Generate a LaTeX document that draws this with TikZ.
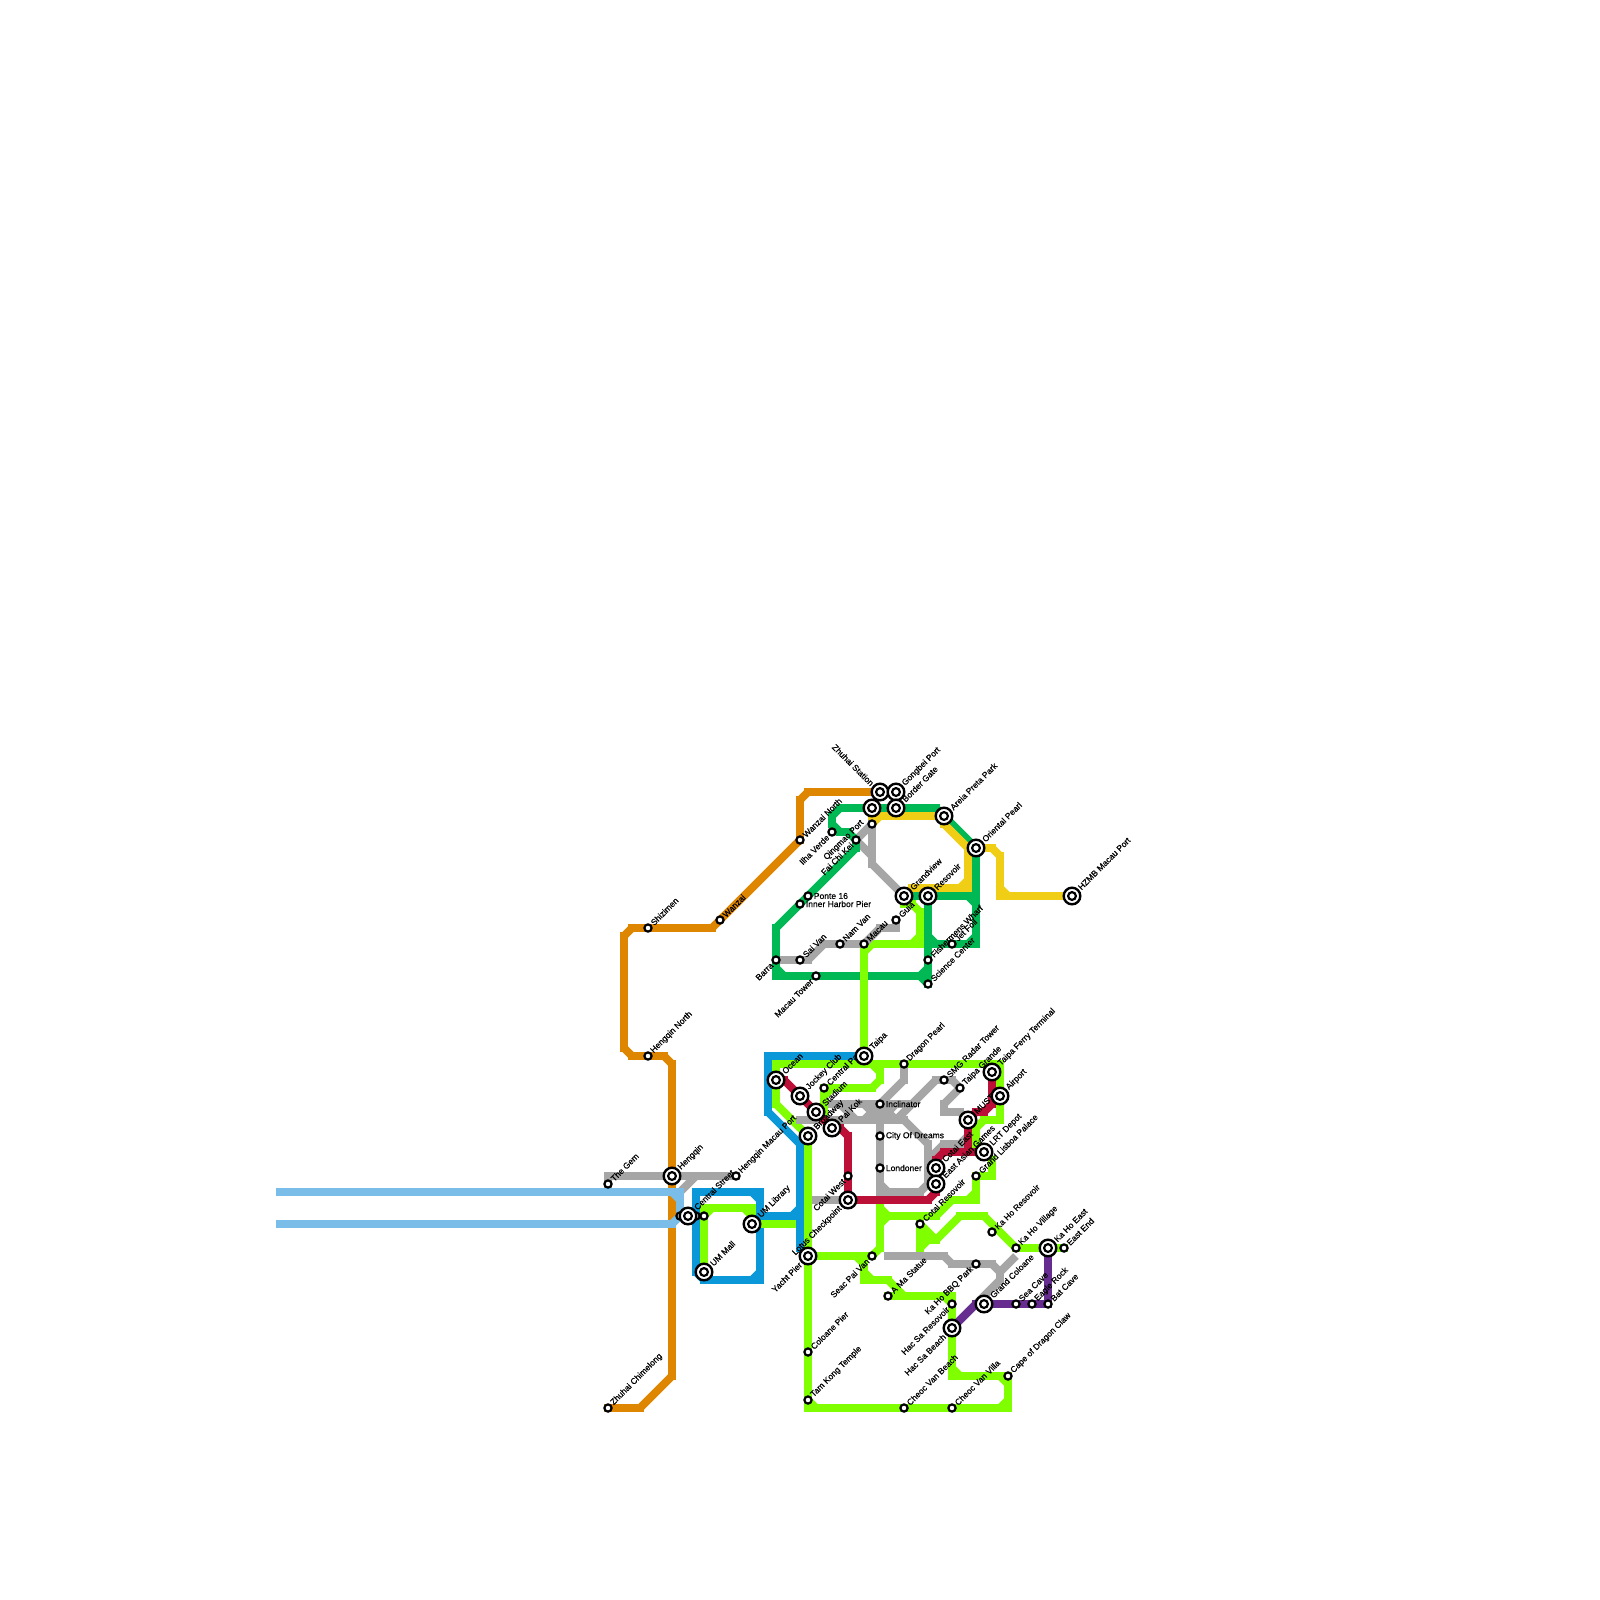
\documentclass[tikz,border=0pt]{standalone}
\usepackage{fontspec}
\setmainfont{Liberation Sans}
\newfontfamily\labelfont[FakeBold=0.6]{Liberation Sans}
\usepackage{xcolor}
\usetikzlibrary{backgrounds}
\definecolor{riverblue}{HTML}{79BDE8}
\definecolor{lineorange}{HTML}{DF8600}
\definecolor{lineblue}{HTML}{0A98D8}
\definecolor{linelime}{HTML}{80FF00}
\definecolor{linegreen}{HTML}{00B854}
\definecolor{linegray}{HTML}{A6A6A6}
\definecolor{linered}{HTML}{BD1038}
\definecolor{linepurple}{HTML}{662C90}
\definecolor{linegold}{HTML}{F0CE15}
\newcommand{\route}[2]{%
  \foreach \p [remember=\p as \q (initially none), count=\i] in {#2} {%
    \ifnum\i>1
      \path \q coordinate (ra) \p coordinate (rb);
      \pgfpointdiff{\pgfpointanchor{ra}{center}}{\pgfpointanchor{rb}{center}}%
      \pgfgetlastxy{\dx}{\dy}%
      \pgfmathtruncatemacro{\isdiag}{(abs(\dx)>0.1 && abs(\dy)>0.1) ? 1 : 0}%
      \ifnum\isdiag=1 \draw[seg, line cap=butt, #1] \q -- \p;
      \else \draw[seg, #1] \q -- \p;\fi
    \fi}}
\newcommand{\corners}[2]{%
  \foreach \p in {#2} {\fill[#1] \p +(-.5,-.5) rectangle +(.5,.5);}}
\tikzset{
  seg/.style={line width=8pt, line cap=rect},
  stop/.style={circle, draw=black, fill=white, line width=2.2pt, inner sep=0pt, minimum size=7.2pt},
  hub/.style={stop, line width=2.4pt, minimum size=16.6pt,
    path picture={\draw[line width=2.2pt] (path picture bounding box.center) circle (3.9pt);}},
  lab/.style={font=\labelfont\fontsize{8.5}{9}\selectfont, inner sep=1pt},
  ur/.style={lab, rotate=45, anchor=west},
  dl/.style={lab, rotate=45, anchor=east},
  ul/.style={lab, rotate=-45, anchor=east},
  rr/.style={lab, anchor=west},
}
\begin{document}
\begin{tikzpicture}[x=8pt, y=-8pt]
\useasboundingbox (0,0) rectangle (200,200);

% west side
\node[stop, label={[ur]45:Zhuhai Chimelong}] (chimelong) at (76,176) {};
\node[stop, label={[ur]45:The Gem}] (gem) at (76,148) {};
\node[stop, label={[ur]45:Shizimen}] (shizimen) at (81,116) {};
\node[stop, label={[ur]45:Hengqin North}] (hqnorth) at (81,132) {};
\node[stop, label={[ur]45:Wanzai}] (wanzai) at (90,115) {};
\node[hub, label={[ur]45:Hengqin}] (hengqin) at (84,147) {};
\node[stop, label={[ur]45:Hengqin Macau Port}] (hqport) at (92,147) {};
\node[stop] (cs1) at (85,152) {};
\node[stop] (cs2) at (87,152) {};
\node[stop] (cs3) at (88,152) {};
\node[hub, label={[ur]45:Central Street}] (central) at (86,152) {};
\node[hub, label={[ur]45:UM Library}] (umlib) at (94,153) {};
\node[hub, label={[ur]45:UM Mall}] (ummall) at (88,159) {};

% macau peninsula
\node[stop, label={[ur]45:Wanzai North}] (wanzainorth) at (100,105) {};
\node[stop, label={[dl]225:Ilha Verde}] (ilha) at (104,104) {};
\node[stop, label={[dl]225:Fai Chi Kei}] (fai) at (107,105) {};
\node[stop] (qingmao) at (109,103) {};
\node[dl] (qingmaotext) at (107.9,102.6) {Qingmao Port};
\node[hub, label={[ul]135:Zhuhai Station}] (zhuhai) at (110,99) {};
\node[hub, label={[ur]45:Gongbei Port}] (gongbei) at (112,99) {};
\node[hub] (linkhub) at (109,101) {};
\node[hub, label={[ur]45:Border Gate}] (border) at (112,101) {};
\node[hub, label={[ur]45:Areia Preta Park}] (areia) at (118,102) {};
\node[hub, label={[ur]45:Oriental Pearl}] (oriental) at (122,106) {};
\node[hub, label={[ur]45:HZMB Macau Port}] (hzmb) at (134,112) {};
\node[hub, label={[ur]45:Grandview}] (grandview) at (113,112) {};
\node[hub, label={[ur]45:Resovoir}] (resovoir) at (116,112) {};
\node[stop, label={[ur]45:Guia}] (guia) at (112,115) {};
\node[stop, label={[rr]right:Ponte 16}] (ponte) at (101,112) {};
\node[stop, label={[rr]right:Inner Harbor Pier}] (inner) at (100,113) {};
\node[stop, label={[ur]45:Macau}] (macau) at (108,118) {};
\node[stop, label={[ur]45:Nam Van}] (namvan) at (105,118) {};
\node[stop, label={[ur]45:Sai Van}] (saivan) at (100,120) {};
\node[stop, label={[dl]225:Barra}] (barra) at (97,120) {};
\node[stop, label={[dl]225:Macau Tower}] (tower) at (102,122) {};
\node[stop, label={[ur]45:Fishermens Wharf}] (wharf) at (116,120) {};
\node[stop, label={[ur]45:Science Center}] (science) at (116,123) {};
\node[stop, label={[ur]45:Jet Foil}] (jetfoil) at (119,118) {};

% taipa and cotai
\node[hub, label={[ur]45:Ocean}] (ocean) at (97,135) {};
\node[hub, label={[ur]45:Jockey Club}] (jockey) at (100,137) {};
\node[stop, label={[ur]45:Central Park}] (cpark) at (103,136) {};
\node[hub, label={[ur]45:Taipa}] (taipa) at (108,132) {};
\node[hub, label={[ur]45:Stadium}] (stadium) at (102,139) {};
\node[hub, label={[ur]45:Broadway}] (broadway) at (101,142) {};
\node[hub, label={[ur]45:Pai Kok}] (paikok) at (104,141) {};
\node[stop, label={[ur]45:Dragon Pearl}] (dragon) at (113,133) {};
\node[stop, label={[ur]45:SMG Radar Tower}] (smg) at (118,135) {};
\node[stop, label={[ur]45:Taipa Grande}] (grande) at (120,136) {};
\node[hub, label={[ur]45:Taipa Ferry Terminal}] (ferry) at (124,134) {};
\node[hub, label={[ur]45:Airport}] (airport) at (125,137) {};
\node[hub, label={[ur]45:MUST}] (must) at (121,140) {};
\node[stop, label={[rr]right:Inclinator}] (inclinator) at (110,138) {};
\node[stop, label={[rr]right:City Of Dreams}] (dreams) at (110,142) {};
\node[stop, label={[rr]right:Londoner}] (londoner) at (110,146) {};
\node[hub, label={[ur]45:Cotai East}] (cotaieast) at (117,146) {};
\node[hub, label={[ur]45:East Asian Games}] (games) at (117,148) {};
\node[hub, label={[ur]45:LRT Depot}] (lrt) at (123,144) {};
\node[stop, label={[ur]45:Grand Lisboa Palace}] (lisboa) at (122,147) {};
\node[stop, label={[dl]225:Cotai West}] (cotaiwest) at (106,147) {};
\node[hub, label={[dl]225:Lotus Checkpoint}] (lotus) at (106,150) {};

% coloane
\node[hub, label={[dl]225:Yacht Pier}] (yacht) at (101,157) {};
\node[stop, label={[dl]225:Seac Pai Van}] (seac) at (109,157) {};
\node[stop, label={[ur]45:Cotai Resovoir}] (cotaires) at (115,153) {};
\node[stop, label={[ur]45:Ka Ho Resovoir}] (kahores) at (124,154) {};
\node[stop, label={[ur]45:Ka Ho Village}] (kahovil) at (127,156) {};
\node[hub, label={[ur]45:Ka Ho East}] (kahoeast) at (131,156) {};
\node[stop, label={[ur]45:East End}] (eastend) at (133,156) {};
\node[stop, label={[dl]225:Ka Ho BBQ Park}] (bbq) at (122,158) {};
\node[stop, label={[ur]45:A Ma Statue}] (ama) at (111,162) {};
\node[stop, label={[dl]225:Hac Sa Resovoir}] (hacres) at (119,163) {};
\node[hub, label={[dl]225:Hac Sa Beach}] (hacbeach) at (119,166) {};
\node[hub, label={[ur]45:Grand Coloane}] (coloane) at (123,163) {};
\node[stop, label={[ur]45:Sea Cave}] (seacave) at (127,163) {};
\node[stop, label={[ur]45:Eagle Rock}] (eagle) at (129,163) {};
\node[stop, label={[ur]45:Bat Cave}] (batcave) at (131,163) {};
\node[stop, label={[ur]45:Coloane Pier}] (cpier) at (101,169) {};
\node[stop, label={[ur]45:Tam Kong Temple}] (tamkong) at (101,175) {};
\node[stop, label={[ur]45:Cheoc Van Beach}] (cvbeach) at (113,176) {};
\node[stop, label={[ur]45:Cheoc Van Villa}] (cvvilla) at (119,176) {};
\node[stop, label={[ur]45:Cape of Dragon Claw}] (cape) at (126,172) {};

\begin{scope}[on background layer]
% orange
\route{lineorange}{(chimelong.center),(80,176),(84,172),(hengqin.center),(84,133),(83,132),(79,132),(78,131),(78,117),(79,116),(89,116),(wanzainorth.center),(100,100),(101,99),(zhuhai.center)}

% blue
\route{lineblue}{(87,149),(94,149),(95,150),(95,159),(94,160),(88,160),(87,159),(87,149)}
\route{lineblue}{(95,152),(99,152),(100,151),(100,143),(96,139),(96,132),(taipa.center)}
\route{lineblue}{(100,151),(100,156),(yacht.center)}
\corners{lineblue}{(95,149),(95,160)}

% lime
\route{linelime}{(97,133),(124,133),(125,134),(125,140),(123,140),(122,141),(122,143),(lrt.center),(124,145),(124,147),(lisboa.center),(122,149),(121,150),(119,150),(117,152),(111,152),(110,151),(110,156),(seac.center),(yacht.center)}
\route{linelime}{(110,153),(111,152)}
\route{linelime}{(97,133),(97,138),(broadway.center),(yacht.center),(cpier.center),(tamkong.center),(102,176),(125,176),(126,175),(126,173),(125,172),(120,172),(119,171),(hacbeach.center),(hacres.center),(118,162),(113,162),(111,160),(109,160),(108,159),(108,158),(107,157)}
\route{linelime}{(125,172),(cape.center),(126,173)}
\route{linelime}{(ama.center),(113,162)}
\route{linelime}{(109,133),(110,134),(110,135),(109,136),(104,136),(103,137),(103,140)}
\route{linelime}{(cpark.center),(104,136)}
\route{linelime}{(taipa.center),(108,119),(109,118),(114,118),(115,117),(115,114),(114,113),(113,113),(grandview.center)}
\route{linelime}{(ummall.center),(88,152),(89,151),(93,151),(94,152),(umlib.center),(99,153)}
\route{linelime}{(115,152),(cotaires.center),(115,156),(116,155),(117,155),(120,152),(123,152),(kahovil.center),(kahoeast.center),(eastend.center)}
\route{linelime}{(cotaires.center),(117,155)}
\route{linelime}{(115,154),(116,155)}
\corners{linelime}{(88,151),(94,151),(101,176),(126,176),(126,172),(119,172),(119,162),(108,160),(115,118),(122,150),(125,133)}

% gray
\route{linegray}{(gem.center),(76,147),(hengqin.center),(hqport.center)}
\route{linegray}{(87,147),(85,149),(cs1.center)}
\route{linegray}{(100,140),(113,140),(116,143),(116,148),(115,149),(111,149),(110,148),(londoner.center),(dreams.center),(inclinator.center)}
\route{linegray}{(104,138),(114,138)}
\route{linegray}{(dragon.center),(113,135),(108,140)}
\route{linegray}{(108,138),(110,140),(112,138)}
\route{linegray}{(inclinator.center),(112,140),(117,135),(smg.center),(119,135),(grande.center),(118,138),(118,139),(120,139),(must.center),(121,142),(120,143),(118,143),(116,145)}
\route{linegray}{(105,138),(107,140)}
\route{linegray}{(fai.center),(qingmao.center),(109,108),(grandview.center)}
\route{linegray}{(fai.center),(109,107)}
\route{linegray}{(barra.center),(101,120),(103,118),(macau.center),(110,116),(112,116),(guia.center)}
\route{linegray}{(102,150),(lotus.center)}
\route{linegray}{(111,157),(118,157),(119,158),(124,158),(125,159),(125,160),(hacbeach.center)}
\route{linegray}{(125,159),(127,157)}
\corners{linegray}{(110,149)}

% green
\route{linegreen}{(fai.center),(107,106),(97,116),(97,121),(98,122),(107,122)}
\route{linegreen}{(109,122),(115,122),(116,121)}
\route{linegreen}{(115,122),(science.center),(resovoir.center)}
\route{linegreen}{(107,106),(fai.center),(106,104),(105,104),(104,103),(104,102),(105,101),(117,101),(areia.center),(oriental.center),(122,117),(121,118),(117,118),(116,117)}
\route{linegreen}{(grandview.center),(121,112),(122,113)}
\corners{linegreen}{(97,122),(122,118),(122,112)}

% red
\route{linered}{(ocean.center),(98,135),(paikok.center),(105,141),(106,142),(lotus.center),(116,150),(117,149),(games.center),(cotaieast.center),(117,145),(118,144),(lrt.center)}
\route{linered}{(must.center),(121,144)}
\route{linered}{(must.center),(122,139),(123,139),(124,138),(ferry.center)}

% purple
\route{linepurple}{(hacbeach.center),(122,163),(coloane.center),(batcave.center),(kahoeast.center)}

% gold
\route{linegold}{(grandview.center),(114,111),(120,111),(121,110),(121,106),(118,103),(areia.center),(110,102),(qingmao.center)}
\route{linegold}{(oriental.center),(124,106),(125,107),(125,111),(126,112),(hzmb.center)}
\corners{linegold}{(125,112),(121,111),(109,102)}

% river
\route{riverblue}{(35,149),(84,149),(85,150),(85,152),(84,153),(35,153)}
\corners{riverblue}{(85,149)}
\end{scope}
\end{tikzpicture}
\end{document}
